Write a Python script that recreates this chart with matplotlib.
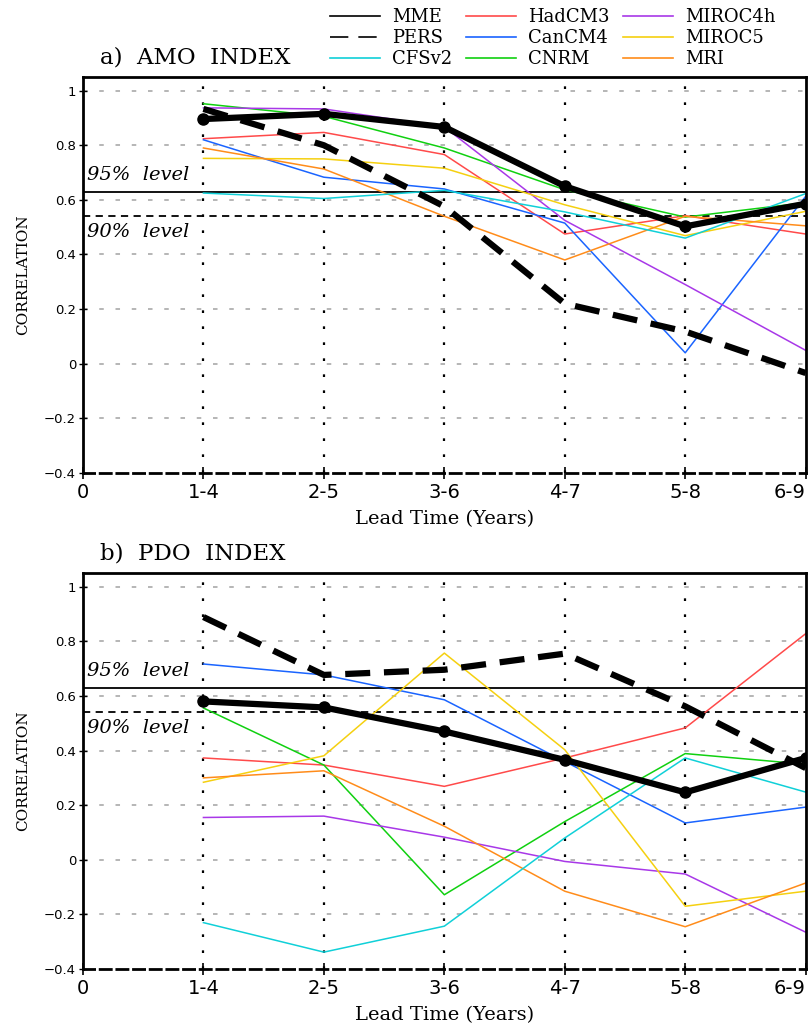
import matplotlib
matplotlib.use("Agg")
import matplotlib.pyplot as plt
from matplotlib.lines import Line2D

# lead-time categories
leads = ["1-4", "2-5", "3-6", "4-7", "5-8", "6-9"]
xticklabels = ["0"] + leads

models = ["HadCM3", "CanCM4", "CNRM", "MIROC4h", "MIROC5", "MRI", "CFSv2"]
model_colors = {
    "HadCM3": "#ff4a4a", "CanCM4": "#1a64ff", "CNRM": "#10d010",
    "MIROC4h": "#a838e8", "MIROC5": "#f5d010", "MRI": "#ff8c1a", "CFSv2": "#10d0d8",
}

# a) AMO index correlations
amo_mme = [0.896, 0.915, 0.867, 0.65, 0.503, 0.586]
amo_pers = [0.933, 0.80, 0.576, 0.22, 0.118, -0.034]
amo_models = {
    "HadCM3": [0.824, 0.847, 0.766, 0.475, 0.542, 0.475],
    "CanCM4": [0.82, 0.683, 0.64, 0.515, 0.04, 0.613],
    "CNRM": [0.952, 0.906, 0.79, 0.637, 0.537, 0.59],
    "MIROC4h": [0.937, 0.933, 0.867, 0.525, 0.29, 0.049],
    "MIROC5": [0.752, 0.75, 0.716, 0.582, 0.469, 0.558],
    "MRI": [0.79, 0.713, 0.54, 0.38, 0.54, 0.505],
    "CFSv2": [0.625, 0.605, 0.635, 0.556, 0.46, 0.623],
}

# b) PDO index correlations
pdo_mme = [0.58, 0.558, 0.47, 0.366, 0.247, 0.373]
pdo_pers = [0.889, 0.677, 0.696, 0.755, 0.562, 0.336]
pdo_models = {
    "HadCM3": [0.373, 0.347, 0.269, 0.373, 0.483, 0.828],
    "CanCM4": [0.717, 0.677, 0.586, 0.36, 0.135, 0.193],
    "CNRM": [0.556, 0.347, -0.128, 0.14, 0.389, 0.35],
    "MIROC4h": [0.155, 0.16, 0.083, -0.006, -0.052, -0.265],
    "MIROC5": [0.284, 0.381, 0.757, 0.403, -0.17, -0.115],
    "MRI": [0.30, 0.326, 0.123, -0.115, -0.245, -0.085],
    "CFSv2": [-0.23, -0.338, -0.243, 0.08, 0.373, 0.248],
}

sig95 = 0.63
sig90 = 0.542

plt.rcParams["font.family"] = ["DejaVu Serif"]

fig = plt.figure(figsize=(8.12, 10.32), dpi=100)
ax_a = fig.add_axes([0.1022, 0.5417, 0.890, 0.3837])
ax_b = fig.add_axes([0.1022, 0.061, 0.890, 0.3837])

x = list(range(1, len(leads) + 1))


def draw_panel(ax, mme, pers, mvals, title):
    for v in [-0.2, 0, 0.2, 0.4, 0.6, 0.8, 1.0]:
        ax.axhline(v, color="#b0b0b0", lw=1.3, ls=(0, (2.5, 6.5)), zorder=0)
    for xv in x[:-1]:
        ax.axvline(xv, color="black", lw=1.6, ls=(0, (1.2, 6.0)), zorder=0)
    ax.axhline(sig95, color="black", lw=1.3, zorder=1)
    ax.axhline(sig90, color="black", lw=1.3, ls=(0, (4, 3)), zorder=1)
    ax.text(0.03, sig95 + 0.028, "95%  level", style="italic", fontsize=14, va="bottom")
    ax.text(0.03, sig90 - 0.028, "90%  level", style="italic", fontsize=14, va="top")
    for m in models:
        ax.plot(x, mvals[m], color=model_colors[m], lw=1.1, zorder=2)
    ax.plot(x, pers, color="black", lw=4.5, ls=(0, (4, 2.2)), zorder=3)
    ax.plot(x, mme, color="black", lw=4.5, marker="o", ms=8,
            markerfacecolor="black", markeredgecolor="black", zorder=4)
    ax.set_xlim(0, 6)
    ax.set_ylim(-0.4, 1.05)
    ax.set_xticks(range(0, 7))
    ax.set_xticklabels(xticklabels, fontsize=14, family="DejaVu Sans")
    ax.get_xticklabels()[-1].set_horizontalalignment("right")
    ax.set_yticks([-0.4, -0.2, 0, 0.2, 0.4, 0.6, 0.8, 1.0])
    ax.set_yticklabels(["\u22120.4", "\u22120.2", "0", "0.2", "0.4", "0.6", "0.8", "1"],
                       fontsize=9.5, family="DejaVu Sans")
    ax.tick_params(axis="x", direction="inout", length=8, width=1.2, pad=3)
    ax.tick_params(axis="y", direction="inout", length=6, width=1.0, pad=2)
    for s in ax.spines.values():
        s.set_linewidth(2)
    ax.spines["bottom"].set_linestyle((0, (4, 2)))
    ax.set_xlabel("Lead Time (Years)", fontsize=14, labelpad=6)
    ax.set_ylabel("CORRELATION", fontsize=11, labelpad=10)
    ax.text(0.024, 1.022, title, transform=ax.transAxes, fontsize=16.5, va="bottom")


draw_panel(ax_a, amo_mme, amo_pers, amo_models, "a)  AMO  INDEX")
draw_panel(ax_b, pdo_mme, pdo_pers, pdo_models, "b)  PDO  INDEX")

# legend (thin sample lines)
legend_order = ["MME", "PERS", "CFSv2", "HadCM3", "CanCM4", "CNRM", "MIROC4h", "MIROC5", "MRI"]
handles = []
for name in legend_order:
    if name == "MME":
        handles.append(Line2D([], [], color="black", lw=1.2))
    elif name == "PERS":
        handles.append(Line2D([], [], color="black", lw=1.2, ls=(0, (11, 6))))
    else:
        handles.append(Line2D([], [], color=model_colors[name], lw=1.2))
fig.legend(handles, legend_order, ncol=3, loc="upper left",
           bbox_to_anchor=(330 / 812, 1 - 8 / 1032),
           frameon=False, fontsize=13, handlelength=2.75, handletextpad=0.7,
           columnspacing=0.75, labelspacing=0.18, borderpad=0, borderaxespad=0)

fig.savefig("out.png", dpi=100)
